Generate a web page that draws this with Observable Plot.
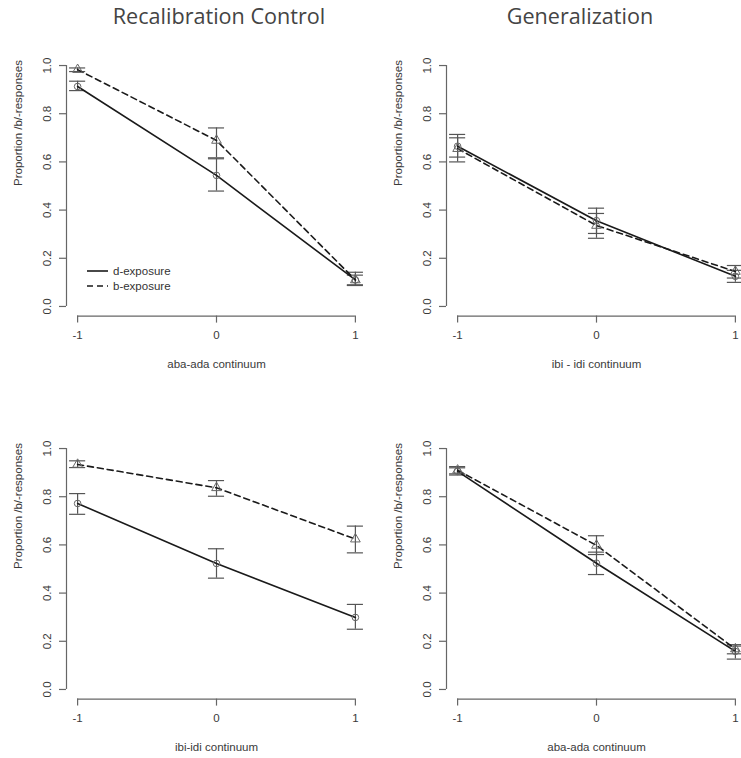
<!DOCTYPE html>
<html>
<head>
<meta charset="utf-8">
<script src="https://cdn.jsdelivr.net/npm/d3@7"></script>
<script src="https://cdn.jsdelivr.net/npm/@observablehq/plot@0.6"></script>
<style>
  html, body { margin: 0; padding: 0; background: #fff; }
  #root { position: relative; width: 741px; height: 758px; overflow: hidden; background: #fff; }
  .panel { position: absolute; width: 390px; height: 340px; }
  .panel svg { max-width: none !important; }
  .title { position: absolute; top: 1px; font-family: "Open Sans", sans-serif; font-size: 21.6px; color: #444; transform: translateX(-50%); white-space: nowrap; }
  .legend { position: absolute; font-family: "Liberation Sans", Arial, sans-serif; font-size: 11.5px; color: #333; }
  .legend div { display: flex; align-items: center; height: 15px; }
  .legend svg { margin-right: 5px; }
</style>
</head>
<body>
<div id="root"></div>
<script>
// ---- data ----
const columnTitles = ["Recalibration Control", "Generalization"];
const continuumLabels = ["aba-ada continuum", "ibi - idi continuum", "ibi-idi continuum", "aba-ada continuum"];
const yAxisLabel = "Proportion /b/-responses";
const seriesNames = ["d-exposure", "b-exposure"];
const steps = [-1, 0, 1];
const xTicks = [-1, 0, 1];
const yTicks = [0, 0.2, 0.4, 0.6, 0.8, 1.0];

// panel 1: Recalibration Control, aba-ada
const p1_d = [0.913, 0.544, 0.11],  p1_dLo = [0.896, 0.479, 0.09],  p1_dHi = [0.935, 0.613, 0.13];
const p1_b = [0.983, 0.689, 0.11],  p1_bLo = [0.975, 0.617, 0.087], p1_bHi = [0.99, 0.741, 0.142];
// panel 2: Generalization, ibi-idi
const p2_d = [0.665, 0.356, 0.125], p2_dLo = [0.62, 0.303, 0.10],   p2_dHi = [0.714, 0.408, 0.15];
const p2_b = [0.655, 0.336, 0.145], p2_bLo = [0.60, 0.283, 0.118],  p2_bHi = [0.70, 0.386, 0.17];
// panel 3: Recalibration Control, ibi-idi
const p3_d = [0.772, 0.523, 0.299], p3_dLo = [0.727, 0.462, 0.25],  p3_dHi = [0.813, 0.584, 0.353];
const p3_b = [0.934, 0.837, 0.624], p3_bLo = [0.921, 0.802, 0.567], p3_bHi = [0.949, 0.867, 0.678];
// panel 4: Generalization, aba-ada
const p4_d = [0.905, 0.524, 0.158], p4_dLo = [0.89, 0.477, 0.126], p4_dHi = [0.92, 0.57, 0.18];
const p4_b = [0.91, 0.598, 0.168],  p4_bLo = [0.895, 0.56, 0.148], p4_bHi = [0.925, 0.638, 0.186];

// ---- build tables ----
function table(d, dLo, dHi, b, bLo, bHi) {
  const rows = [];
  steps.forEach((x, i) => rows.push({series: seriesNames[0], x, y: d[i], lo: dLo[i], hi: dHi[i]}));
  steps.forEach((x, i) => rows.push({series: seriesNames[1], x, y: b[i], lo: bLo[i], hi: bHi[i]}));
  return rows;
}
const panels = [
  {rows: table(p1_d, p1_dLo, p1_dHi, p1_b, p1_bLo, p1_bHi), label: continuumLabels[0], left: -14, top: 40},
  {rows: table(p2_d, p2_dLo, p2_dHi, p2_b, p2_bLo, p2_bHi), label: continuumLabels[1], left: 366, top: 40},
  {rows: table(p3_d, p3_dLo, p3_dHi, p3_b, p3_bLo, p3_bHi), label: continuumLabels[2], left: -14, top: 423},
  {rows: table(p4_d, p4_dLo, p4_dHi, p4_b, p4_bLo, p4_bHi), label: continuumLabels[3], left: 366, top: 423}
];

const xDomain = [-1.08, 1.08];
const yDomain = [-0.04, 1.04];
const capHalf = 0.058;
const axisColor = "#666";
const textColor = "#3a3a3a";
const fmtX = d => (d < 0 ? "-" + Math.abs(d) : String(d));

function makePanel(p) {
  const dRows = p.rows.filter(r => r.series === seriesNames[0]);
  const bRows = p.rows.filter(r => r.series === seriesNames[1]);
  return Plot.plot({
    width: 390,
    height: 340,
    marginLeft: 80,
    marginRight: 10,
    marginTop: 15.4,
    marginBottom: 64.4,
    x: {domain: xDomain, axis: null},
    y: {domain: yDomain, axis: null},
    style: {fontFamily: "'Liberation Sans', Arial, sans-serif", fontSize: "11.5px", color: textColor, background: "transparent", overflow: "visible", maxWidth: "none"},
    marks: [
      // axes (R style: lines spanning first to last tick)
      Plot.ruleX([xDomain[0]], {y1: yTicks[0], y2: yTicks[yTicks.length - 1], stroke: axisColor, strokeWidth: 1.2}),
      Plot.ruleY([yDomain[0]], {x1: xTicks[0], x2: xTicks[xTicks.length - 1], stroke: axisColor, strokeWidth: 1.2}),
      Plot.axisY({ticks: yTicks, tickSize: 7, tickPadding: 9, tickRotate: -90, tickFormat: d3.format(".1f"), label: null, stroke: axisColor, strokeWidth: 1.2, fill: textColor}),
      Plot.axisX({ticks: xTicks, tickSize: 7, tickPadding: 8, tickFormat: fmtX, label: null, stroke: axisColor, strokeWidth: 1.2, fill: textColor}),
      Plot.text([p.label], {frameAnchor: "bottom", dy: 48, lineAnchor: "middle", fill: textColor}),
      Plot.text([yAxisLabel], {frameAnchor: "left", dx: -48, rotate: -90, lineAnchor: "middle", fill: textColor}),
      // error bars
      Plot.ruleX(p.rows, {x: "x", y1: "lo", y2: "hi", stroke: "#555", strokeWidth: 1.2}),
      Plot.ruleY(p.rows, {y: "lo", x1: d => d.x - capHalf, x2: d => d.x + capHalf, stroke: "#555", strokeWidth: 1.2}),
      Plot.ruleY(p.rows, {y: "hi", x1: d => d.x - capHalf, x2: d => d.x + capHalf, stroke: "#555", strokeWidth: 1.2}),
      // lines
      Plot.line(dRows, {x: "x", y: "y", stroke: "#1a1a1a", strokeWidth: 1.6}),
      Plot.line(bRows, {x: "x", y: "y", stroke: "#1a1a1a", strokeWidth: 1.6, strokeDasharray: "6,4"}),
      // markers
      Plot.dot(dRows, {x: "x", y: "y", r: 3.3, symbol: "circle", stroke: "#666", fill: "none", strokeWidth: 1}),
      Plot.dot(bRows, {x: "x", y: "y", r: 3.6, symbol: "triangle", stroke: "#666", fill: "none", strokeWidth: 1})
    ]
  });
}

const root = document.getElementById("root");
panels.forEach(p => {
  const div = document.createElement("div");
  div.className = "panel";
  div.style.left = p.left + "px";
  div.style.top = p.top + "px";
  div.appendChild(makePanel(p));
  root.appendChild(div);
});

// column titles
[[columnTitles[0], 219], [columnTitles[1], 580]].forEach(([t, cx]) => {
  const el = document.createElement("div");
  el.className = "title";
  el.style.left = cx + "px";
  el.textContent = t;
  root.appendChild(el);
});

// legend (top-left panel)
const legend = document.createElement("div");
legend.className = "legend";
legend.style.left = "87px";
legend.style.top = "263px";
seriesNames.forEach((name, i) => {
  const row = document.createElement("div");
  const dash = i === 1 ? ' stroke-dasharray="6,4"' : "";
  row.innerHTML = `<svg width="21" height="4"><line x1="0" y1="2" x2="21" y2="2" stroke="#1a1a1a" stroke-width="1.6"${dash}/></svg><span>${name}</span>`;
  legend.appendChild(row);
});
root.appendChild(legend);
</script>
</body>
</html>
